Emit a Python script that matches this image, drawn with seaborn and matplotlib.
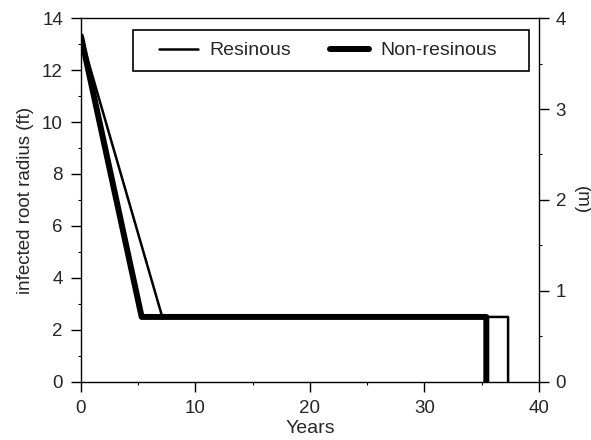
import matplotlib
matplotlib.use("Agg")
import matplotlib.pyplot as plt
from matplotlib.ticker import MultipleLocator
from matplotlib.patches import Rectangle
import seaborn as sns
import pandas as pd

# Infected root radius (ft) over time (years)
resinous_years = [0.0, 7.1, 37.3, 37.3]
resinous_radius = [13.3, 2.5, 2.5, 0.0]
nonresinous_years = [0.0, 5.3, 35.4, 35.4]
nonresinous_radius = [13.3, 2.5, 2.5, 0.0]

series_names = ["Resinous", "Non-resinous"]
x_ticks = [0, 10, 20, 30, 40]
y_ticks_ft = [0, 2, 4, 6, 8, 10, 12, 14]
y_ticks_m = [0, 1, 2, 3, 4]

sns.set_theme(style="white")
plt.rcParams["font.family"] = ["Liberation Sans", "DejaVu Sans"]

fig = plt.figure(figsize=(5.91, 4.40), dpi=100)
ax = fig.add_axes([0.137, 0.132, 0.775, 0.827])

res = pd.DataFrame({"Years": resinous_years, "radius": resinous_radius})
non = pd.DataFrame({"Years": nonresinous_years, "radius": nonresinous_radius})

sns.lineplot(data=res, x="Years", y="radius", sort=False, estimator=None,
             color="black", linewidth=1.8, ax=ax, label=series_names[0])
sns.lineplot(data=non, x="Years", y="radius", sort=False, estimator=None,
             color="black", linewidth=4.3, ax=ax, label=series_names[1])

ax.set_xlim(0, 40)
ax.set_ylim(0, 14)
ax.set_xticks(x_ticks)
ax.set_yticks(y_ticks_ft)
ax.xaxis.set_minor_locator(MultipleLocator(5))
ax.yaxis.set_minor_locator(MultipleLocator(1))
ax.set_xlabel("Years", fontsize=14, labelpad=2)
ax.set_ylabel("infected root radius (ft)", fontsize=13.5, labelpad=6)

for s in ax.spines.values():
    s.set_visible(True)
    s.set_color("black")
    s.set_linewidth(1.0)

ax.tick_params(axis="both", which="major", direction="out", length=7,
               width=1.0, color="black", labelsize=13.5, pad=6,
               bottom=True, left=True)
ax.tick_params(axis="both", which="minor", direction="out", length=2,
               width=0.8, color="black", bottom=True, left=True)

ax2 = ax.twinx()
ax2.set_ylim(0, 4)
ax2.set_yticks(y_ticks_m)
ax2.yaxis.set_minor_locator(MultipleLocator(0.5))
ax2.tick_params(axis="y", which="major", direction="out", length=7,
                width=1.0, color="black", labelsize=13.5, pad=5, right=True)
ax2.tick_params(axis="y", which="minor", direction="out", length=2,
                width=0.8, color="black", right=True)
ax2.set_ylabel("(m)", fontsize=13.5, rotation=270, va="bottom", labelpad=5)
ax2.grid(False)
for s in ax2.spines.values():
    s.set_visible(False)

# Legend frame drawn as a box in axes coordinates, entries centred inside it
ax.add_patch(Rectangle((0.1135, 0.8544), 0.8646, 0.1126, transform=ax.transAxes,
                       fill=True, facecolor="white", edgecolor="black",
                       linewidth=1.2, zorder=5))
leg = ax.legend(loc="center", bbox_to_anchor=(0.539, 0.9107), ncol=2,
                fontsize=14, frameon=False, handlelength=2.0,
                columnspacing=2.0, handletextpad=0.6, borderpad=0.0,
                borderaxespad=0.0)
leg.set_zorder(6)

fig.savefig("out.png", dpi=100, facecolor="white")
